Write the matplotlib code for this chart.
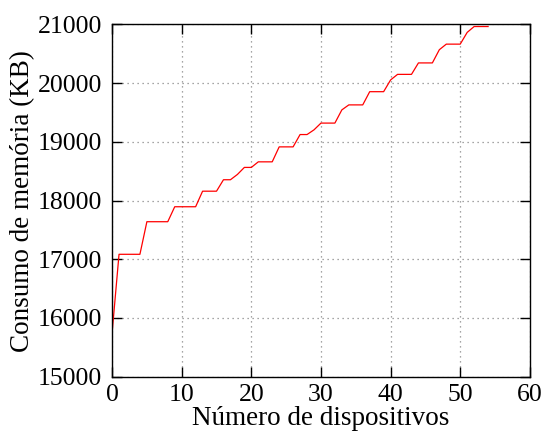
import matplotlib
matplotlib.use("Agg")
import matplotlib.pyplot as plt

# vertices
devices = [0, 1, 4, 5, 8, 9, 12, 13, 15, 16, 17, 18, 19, 20, 21, 23, 24, 26,
           27, 28, 29, 30, 32, 33, 34, 36, 37, 39, 40, 41, 43, 44, 46, 47, 48,
           50, 51, 52, 54]
memory_kb = [15740, 17085, 17085, 17640, 17640, 17895, 17895, 18160, 18160,
             18355, 18355, 18445, 18565, 18565, 18660, 18660, 18915, 18915,
             19125, 19125, 19205, 19320, 19320, 19545, 19630, 19630, 19855,
             19855, 20055, 20150, 20150, 20345, 20345, 20570, 20665, 20665,
             20865, 20965, 20965]

x_ticks = [0, 10, 20, 30, 40, 50, 60]
y_ticks = [15000, 16000, 17000, 18000, 19000, 20000, 21000]

plt.rcParams['font.family'] = ['Liberation Serif', 'DejaVu Serif']

fig = plt.figure(figsize=(5.44, 4.37), dpi=100)
ax1 = fig.add_axes([0.206, 0.138, 0.768, 0.806])

ax1.plot(devices, memory_kb, color='red', lw=0.9)

ax1.set_xlim(0, 60)
ax1.set_ylim(15000, 21000)
ax1.set_xticks(x_ticks)
ax1.set_yticks(y_ticks)

ax1.grid(True, color='#888888', linestyle=(0, (1, 3)), lw=0.9)
ax1.tick_params(direction='in', length=7, width=1, top=True, right=True,
                labelsize=18.5)
ax1.tick_params(axis='x', pad=5)
ax1.tick_params(axis='y', pad=7)
for axis in ['top', 'bottom', 'left', 'right']:
    ax1.spines[axis].set_linewidth(1)

ax1.set_xlabel("Número de dispositivos", fontsize=19.5, labelpad=0)
ax1.set_ylabel("Consumo de memória (KB)", fontsize=19.5, labelpad=2)

fig.savefig('out.png', dpi=100)
